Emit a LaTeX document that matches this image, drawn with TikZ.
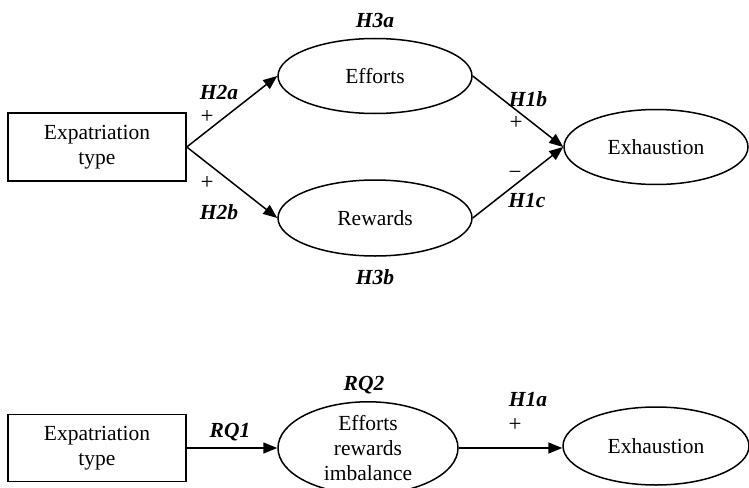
\documentclass[tikz,border=0pt]{standalone}
\usepackage{fontspec}
\setmainfont{Liberation Serif}
\usetikzlibrary{arrows.meta,shapes.geometric}
\begin{document}
\begin{tikzpicture}[x=1pt,y=-1pt,
  font=\fontsize{21.5}{25}\selectfont,
  box/.style={draw, line width=1.5pt, minimum width=178pt, minimum height=68pt, inner sep=0pt, align=center},
  oval/.style={draw, ellipse, line width=1.5pt, inner sep=0pt, align=center},
  lab/.style={font=\fontsize{21.5}{25}\selectfont\bfseries\itshape, inner sep=0pt},
  sign/.style={inner sep=0pt, font=\fontsize{23}{25}\selectfont},
  conn/.style={line width=1.5pt, -{Triangle[length=14pt,width=11pt]}}]
\useasboundingbox (0,0) rectangle (749,487);
% top model
\node[box] (t1) at (97,147) {Expatriation\\type};
\node[oval, minimum width=194pt, minimum height=75pt] (eff) at (375,76) {Efforts};
\node[oval, minimum width=194pt, minimum height=76pt] (rew) at (375,218) {Rewards};
\node[oval, minimum width=184pt, minimum height=75pt] (ex1) at (656,147) {Exhaustion};
\draw[conn] (t1.east) -- (eff.west);
\draw[conn] (t1.east) -- (rew.west);
\draw[conn] (eff.east) -- (ex1.west);
\draw[conn] (rew.east) -- (ex1.west);
\node[lab] (h3a) at (375,20) {H3a};
\node[lab] (h2a) at (219,92) {H2a};
\node[sign] (p2a) at (207,117) {+};
\node[sign] (p2b) at (207,183) {+};
\node[lab] (h2b) at (219,212) {H2b};
\node[lab] (h1b) at (528,99) {H1b};
\node[sign] (p1b) at (516,123) {+};
\node[sign] (m1c) at (515,175) {−};
\node[lab] (h1c) at (527,201) {H1c};
\node[lab] (h3b) at (375,277) {H3b};
% bottom model
\node[box, minimum height=67pt] (t2) at (97,448) {Expatriation\\type};
\node[oval, minimum width=180pt, minimum height=90pt] (imb) at (368,448) {Efforts\\rewards\\imbalance};
\node[oval, minimum width=186pt, minimum height=78pt] (ex2) at (656,446) {Exhaustion};
\draw[conn] (t2.east) -- (imb.west);
\draw[conn] (imb.east) -- (imb.east -| ex2.west);
\node[lab] (rq2) at (364,385) {RQ2};
\node[lab] (rq1) at (230,432) {RQ1};
\node[lab] (h1a) at (528,400) {H1a};
\node[sign] (p1a) at (515,425) {+};
\end{tikzpicture}
\end{document}
